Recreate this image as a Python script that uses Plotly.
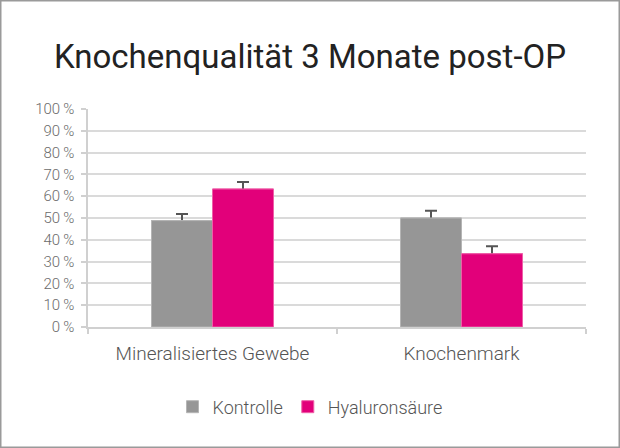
import plotly.graph_objects as go

categories = ["Mineralisiertes Gewebe", "Knochenmark"]
kontrolle = [48.8, 50.0]
kontrolle_err = [3.0, 3.3]
hyaluron = [63.3, 33.6]
hyaluron_err = [3.2, 3.4]
y_ticks = [0, 10, 20, 30, 40, 50, 60, 70, 80, 90, 100]

W, H = 620, 448
L, R, T, B = 88, 34, 109, 121
pw, ph = W - L - R, H - T - B

series = [
    ("Kontrolle", kontrolle, kontrolle_err, "#969696", "#b5b5b5"),
    ("Hyaluronsäure", hyaluron, hyaluron_err, "#e2007a", "#ee5fa8"),
]

fig = go.Figure()
# error bars (drawn underneath, lower half hidden by the bars drawn on top)
for name, vals, errs, col, edge in series:
    fig.add_trace(go.Bar(
        name=name, x=categories, y=vals, xaxis="x", showlegend=False,
        marker=dict(color=col, line=dict(color=edge, width=1)),
        error_y=dict(type="data", array=errs, color="#555555", thickness=2, width=6),
        hoverinfo="skip",
    ))
# visible bars on top
for name, vals, errs, col, edge in series:
    fig.add_trace(go.Bar(
        name=name, x=categories, y=vals, xaxis="x2",
        marker=dict(color=col, line=dict(color=edge, width=1)),
    ))

axis_common = dict(
    showline=True, linecolor="#d0d0d0", linewidth=1.5,
    ticks="outside", tickson="boundaries", ticklen=5, tickcolor="#d0d0d0", tickwidth=1.5,
    tickfont=dict(size=19, color="#555555", weight=300), ticklabelstandoff=8,
)

fig.update_layout(
    width=W, height=H,
    margin=dict(l=L, r=R, t=T, b=B),
    paper_bgcolor="white", plot_bgcolor="white",
    font=dict(family="Roboto", color="#555555", weight=300),
    title=dict(text="Knochenqualität 3 Monate post-OP", x=0.5, xanchor="center",
               y=1 - 56 / H, yanchor="middle",
               font=dict(family="Roboto", size=33, color="#222222", weight=400)),
    barmode="group", bargap=0.51, bargroupgap=0,
    showlegend=True,
    legend=dict(orientation="h", x=0.5, xanchor="center", xref="container",
                y=1 - 407 / H, yref="container", yanchor="middle",
                font=dict(size=18, color="#555555", weight=300), itemwidth=30,
                traceorder="normal"),
    xaxis=axis_common,
    xaxis2=dict(overlaying="x", matches="x", showline=False, showticklabels=False,
                ticks="", showgrid=False),
    yaxis=dict(
        range=[0, 100], tickvals=y_ticks, ticktext=[f"{v}\u2009%" for v in y_ticks],
        showgrid=True, gridcolor="rgba(205,205,205,0.75)", gridwidth=1.5,
        showline=True, linecolor="#d0d0d0", linewidth=1.5,
        ticks="outside", ticklen=5, tickcolor="#d0d0d0", tickwidth=1.5,
        tickfont=dict(size=15, color="#6b6b6b", weight=300), layer="above traces",
        zeroline=False, ticklabelstandoff=4,
    ),
    shapes=[dict(type="rect", xref="paper", yref="paper",
                 x0=-L / pw + 0.75 / pw, x1=1 + R / pw - 0.75 / pw,
                 y0=-B / ph + 0.75 / ph, y1=1 + T / ph - 0.75 / ph,
                 line=dict(color="#9a9a9a", width=1.5), fillcolor="rgba(0,0,0,0)",
                 layer="above")],
)

fig.write_html("out.html", config={"displayModeBar": False},
               post_script="document.body.style.margin='0';document.body.style.overflow='hidden';")
